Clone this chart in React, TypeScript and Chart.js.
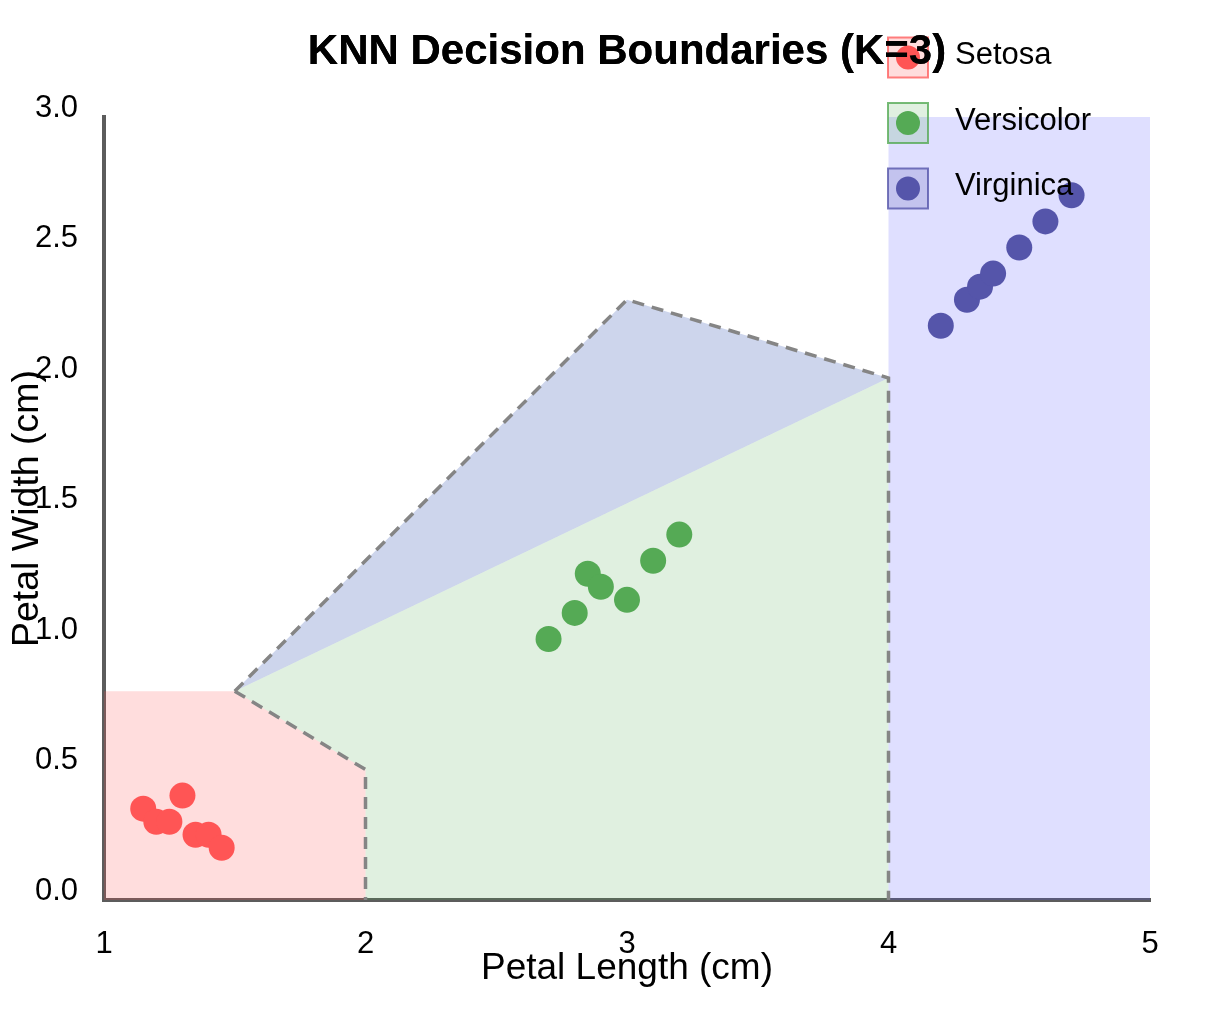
import React, { useEffect, useRef } from "react";
import { Chart, registerables } from "chart.js";

Chart.register(...registerables);

const FONT = "'Liberation Sans', Arial, Helvetica, sans-serif";

// ---- Data ----
const classNames = ["Setosa", "Versicolor", "Virginica"];
const pointColors = ["#ff5555", "#55aa55", "#5555aa"];
const legendFills = ["rgba(255,85,85,0.2)", "rgba(85,170,85,0.18)", "rgba(85,85,170,0.2)"];
const legendBorders = ["rgba(255,85,85,0.75)", "rgba(85,170,85,0.8)", "rgba(85,85,170,0.8)"];

const setosaX = [1.15, 1.2, 1.25, 1.3, 1.35, 1.4, 1.45];
const setosaY = [0.35, 0.3, 0.3, 0.4, 0.25, 0.25, 0.2];
const versicolorX = [2.7, 2.8, 2.85, 2.9, 3.0, 3.1, 3.2];
const versicolorY = [1.0, 1.1, 1.25, 1.2, 1.15, 1.3, 1.4];
const virginicaX = [4.2, 4.3, 4.35, 4.4, 4.5, 4.6, 4.7];
const virginicaY = [2.2, 2.3, 2.35, 2.4, 2.5, 2.6, 2.7];

// decision regions (polygons)
const setosaRegionX = [1, 1, 1.5, 2, 2];
const setosaRegionY = [0, 0.8, 0.8, 0.5, 0];
const versicolorRegionX = [1.5, 2, 2, 4, 4];
const versicolorRegionY = [0.8, 0.5, 0, 0, 2.0];
const overlapRegionX = [1.5, 3, 4];
const overlapRegionY = [0.8, 2.3, 2.0];
const virginicaRegionX = [4, 4, 5, 5];
const virginicaRegionY = [0, 3, 3, 0];
const regionColors = [
  "rgba(255,85,85,0.2)",
  "rgba(85,170,85,0.18)",
  "rgb(205,213,236)",
  "rgba(85,85,255,0.19)",
];

// dashed boundaries
const boundaryAX = [1.5, 3, 4, 4];
const boundaryAY = [0.8, 2.3, 2.0, 0];
const boundaryBX = [1.5, 2, 2];
const boundaryBY = [0.8, 0.5, 0];

const xTicks = [1, 2, 3, 4, 5];
const yTicks = [0, 0.5, 1.0, 1.5, 2.0, 2.5, 3.0];

const zip = (xs: number[], ys: number[]) => xs.map((x, i) => ({ x, y: ys[i] }));

const regionDs = (label: string, xs: number[], ys: number[], color: string, order: number) => ({
  label,
  data: zip(xs, ys),
  showLine: true,
  fill: "shape",
  backgroundColor: color,
  borderColor: "rgba(0,0,0,0)",
  borderWidth: 0,
  pointRadius: 0,
  pointHoverRadius: 0,
  tension: 0,
  order,
});

const boundaryDs = (label: string, xs: number[], ys: number[]) => ({
  label,
  data: zip(xs, ys),
  showLine: true,
  fill: false,
  borderColor: "#858585",
  borderWidth: 3.5,
  borderDash: [12, 8],
  pointRadius: 0,
  pointHoverRadius: 0,
  tension: 0,
  order: 1,
});

const pointDs = (label: string, xs: number[], ys: number[], color: string) => ({
  label,
  data: zip(xs, ys),
  showLine: false,
  backgroundColor: color,
  borderColor: color,
  pointBackgroundColor: color,
  pointBorderWidth: 0,
  pointRadius: 13,
  pointHoverRadius: 13,
  order: 0,
});

const legendPlugin = {
  id: "customLegend",
  afterDatasetsDraw(chart: any) {
    const ctx = chart.ctx;
    const boxX = chart.chartArea.right - 262;
    const startY = 57.5;
    const step = 65.5;
    ctx.save();
    classNames.forEach((name, i) => {
      const cy = startY + i * step;
      ctx.fillStyle = legendFills[i];
      ctx.fillRect(boxX, cy - 20, 40, 40);
      ctx.strokeStyle = legendBorders[i];
      ctx.lineWidth = 2;
      ctx.strokeRect(boxX, cy - 20, 40, 40);
      ctx.beginPath();
      ctx.arc(boxX + 20, cy, 12, 0, Math.PI * 2);
      ctx.fillStyle = pointColors[i];
      ctx.fill();
      ctx.fillStyle = "#000";
      ctx.font = `31px ${FONT}`;
      ctx.textBaseline = "middle";
      ctx.textAlign = "left";
      ctx.fillText(name, boxX + 67, cy - 2);
    });
    ctx.restore();
    // title sits above the legend
    if (chart.titleBlock) chart.titleBlock.draw(chart.chartArea);
  },
};

export default function App() {
  const ref = useRef<HTMLCanvasElement | null>(null);

  useEffect(() => {
    document.body.style.margin = "0";
    if (!ref.current) return;
    const chart = new Chart(ref.current, {
      type: "line",
      data: {
        datasets: [
          pointDs("Setosa", setosaX, setosaY, pointColors[0]),
          pointDs("Versicolor", versicolorX, versicolorY, pointColors[1]),
          pointDs("Virginica", virginicaX, virginicaY, pointColors[2]),
          boundaryDs("Boundary A", boundaryAX, boundaryAY),
          boundaryDs("Boundary B", boundaryBX, boundaryBY),
          regionDs("Virginica region", virginicaRegionX, virginicaRegionY, regionColors[3], 2),
          regionDs("Setosa region", setosaRegionX, setosaRegionY, regionColors[0], 3),
          regionDs("Versicolor region", versicolorRegionX, versicolorRegionY, regionColors[1], 4),
          regionDs("Overlap region", overlapRegionX, overlapRegionY, regionColors[2], 5),
        ] as any,
      },
      options: {
        responsive: false,
        animation: false,
        devicePixelRatio: 1,
        events: [],
        layout: { padding: { left: 0, right: 76, top: 0, bottom: 0 } },
        plugins: {
          legend: { display: false },
          tooltip: { enabled: false },
          title: {
            display: true,
            text: "KNN Decision Boundaries (K=3)",
            color: "#000",
            fullSize: false,
            font: { family: FONT, size: 42, weight: "bold" },
            padding: { top: 27, bottom: 39.6 },
          },
        },
        scales: {
          x: {
            type: "linear",
            min: 1,
            max: 5,
            afterBuildTicks: (s: any) => {
              s.ticks = xTicks.map((v) => ({ value: v }));
            },
            afterFit: (s: any) => {
              s.height = 112;
            },
            ticks: {
              color: "#000",
              font: { family: FONT, size: 31 },
              padding: 26,
              maxRotation: 0,
              callback: (v: any) => String(v),
            },
            grid: { display: false, drawTicks: false },
            border: { display: true, color: "#5c5c5c", width: 4 },
            title: {
              display: true,
              text: "Petal Length (cm)",
              color: "#000",
              font: { family: FONT, size: 37 },
              padding: { top: 0, bottom: 21 },
            },
          },
          y: {
            type: "linear",
            min: 0,
            max: 3,
            afterBuildTicks: (s: any) => {
              s.ticks = yTicks.map((v) => ({ value: v }));
            },
            afterFit: (s: any) => {
              s.width = 104;
            },
            ticks: {
              color: "#000",
              font: { family: FONT, size: 31 },
              padding: 26,
              labelOffset: -9,
              callback: (v: any) => Number(v).toFixed(1),
            },
            grid: { display: false, drawTicks: false },
            border: { display: true, color: "#5c5c5c", width: 4 },
            title: {
              display: true,
              text: "Petal Width (cm)",
              color: "#000",
              font: { family: FONT, size: 37.5 },
              padding: { top: 5, bottom: 0 },
            },
          },
        },
      } as any,
      plugins: [legendPlugin],
    });
    return () => chart.destroy();
  }, []);

  return (
    <div style={{ width: 1226, height: 1012 }}>
      <canvas ref={ref} width={1226} height={1012} style={{ display: "block" }} />
    </div>
  );
}
